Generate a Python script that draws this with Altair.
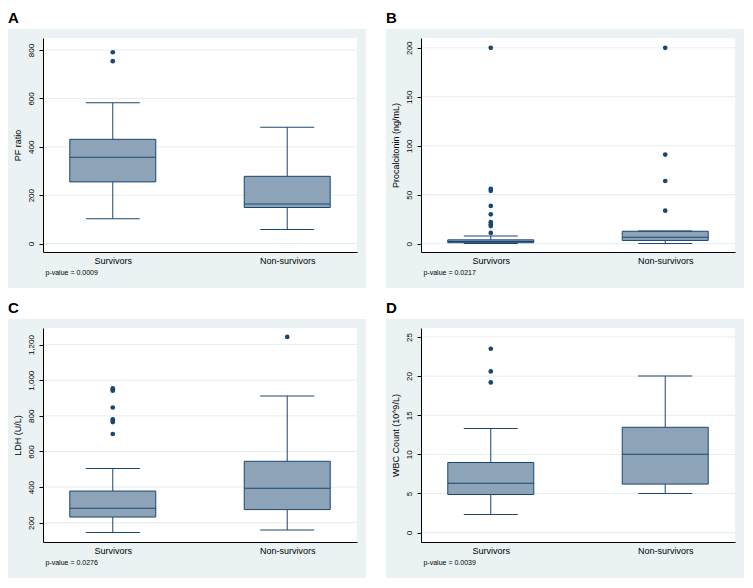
import altair as alt
import pandas as pd

# ---------------- data ----------------
groups = ["Survivors", "Non-survivors"]

# Panel A: PF ratio
A_lower = [103, 58]
A_q1 = [255, 149]
A_median = [357, 163]
A_q3 = [431, 278]
A_upper = [582, 481]
A_out_surv = [791, 754]
A_out_non = []
A_ticks = [0, 200, 400, 600, 800]

# Panel B: Procalcitonin
B_lower = [0.2, 0.1]
B_q1 = [1.0, 3.3]
B_median = [2.2, 6.5]
B_q3 = [3.9, 12.7]
B_upper = [7.8, 13.0]
B_out_surv = [11, 18, 19.5, 22, 30, 38.5, 54, 56, 200]
B_out_non = [33.7, 64, 91, 200]
B_ticks = [0, 50, 100, 150, 200]

# Panel C: LDH
C_lower = [146, 159]
C_q1 = [232, 274]
C_median = [281, 394]
C_q3 = [378, 545]
C_upper = [504, 912]
C_out_surv = [698, 765, 772, 781, 847, 941, 948, 955]
C_out_non = [1243]
C_ticks = [200, 400, 600, 800, 1000, 1200]

# Panel D: WBC count
D_lower = [2.3, 5.0]
D_q1 = [4.87, 6.2]
D_median = [6.3, 10.0]
D_q3 = [8.96, 13.46]
D_upper = [13.3, 20.0]
D_out_surv = [19.2, 20.6, 23.5]
D_out_non = []
D_ticks = [0, 5, 10, 15, 20, 25]

# ---------------- style ----------------
W, H = 314, 214
FONT = "Liberation Sans"
NAVY = "#1a476f"
BOXFILL = "#8da3b7"
BG = "#eaf2f3"
GRID = "#e6eef0"


def panel(letter, ytitle, pval, ticks, domain, fmt,
          lower, q1, med, q3, upper, out_s, out_n):
    stats = pd.DataFrame({"group": groups, "lower": lower, "q1": q1,
                          "median": med, "q3": q3, "upper": upper})
    outs = pd.DataFrame({"group": ["Survivors"] * len(out_s) + ["Non-survivors"] * len(out_n),
                         "value": list(out_s) + list(out_n)})
    grid = pd.DataFrame({"tick": ticks})
    one = pd.DataFrame({"a": [0]})

    xaxis = alt.Axis(title=pval, labelAngle=0, ticks=False, domain=True,
                     domainColor="black", domainWidth=1,
                     labelFontSize=9, labelFont=FONT, labelColor="black", labelPadding=4,
                     titleFont=FONT, titleFontSize=7, titleFontWeight="normal",
                     titleColor="black", titleAnchor="start", titleAlign="left",
                     titlePadding=3, titleX=2, grid=False, zindex=1)
    yaxis = alt.Axis(values=ticks, format=fmt, labelAngle=270, labelFontSize=8,
                     labelFont=FONT, labelColor="black", labelPadding=4,
                     labelOverlap=False, tickSize=4, tickColor="black",
                     domainColor="black", domainWidth=1,
                     titleFont=FONT, titleFontSize=9, titleFontWeight="normal",
                     titleColor="black", titlePadding=5, grid=False, zindex=1)
    yscale = alt.Scale(domain=domain, nice=False, zero=False)
    X = alt.X("group:N", sort=groups, scale=alt.Scale(type="point", padding=0.4),
              axis=xaxis)

    def Y(f):
        return alt.Y(f"{f}:Q", scale=yscale, axis=yaxis, title=ytitle)

    bg = alt.Chart(one).mark_rect(color=BG).encode(
        x=alt.value(-35), x2=alt.value(W + 9), y=alt.value(-9), y2=alt.value(H + 36))
    white = alt.Chart(one).mark_rect(color="white").encode(
        x=alt.value(0), x2=alt.value(W), y=alt.value(0), y2=alt.value(H))
    gridl = alt.Chart(grid).mark_rule(color=GRID, strokeWidth=1).encode(
        y=Y("tick"), x=alt.value(0), x2=alt.value(W))
    whisk = alt.Chart(stats).mark_rule(color=NAVY, strokeWidth=1).encode(
        x=X, y=Y("lower"), y2="upper:Q")
    box = alt.Chart(stats).mark_bar(size=86, fill=BOXFILL, stroke=NAVY,
                                    strokeWidth=1).encode(
        x=X, y=Y("q1"), y2="q3:Q")
    median = alt.Chart(stats).mark_tick(orient="horizontal", size=86, thickness=1,
                                        color=NAVY, opacity=1).encode(x=X, y=Y("median"))
    cap_lo = alt.Chart(stats).mark_tick(orient="horizontal", size=54, thickness=1,
                                        color=NAVY, opacity=1).encode(x=X, y=Y("lower"))
    cap_hi = alt.Chart(stats).mark_tick(orient="horizontal", size=54, thickness=1,
                                        color=NAVY, opacity=1).encode(x=X, y=Y("upper"))
    pts = alt.Chart(outs).mark_circle(size=22, color=NAVY, opacity=1).encode(
        x=X, y=Y("value"))

    return alt.layer(bg, white, gridl, whisk, box, median, cap_lo, cap_hi, pts).properties(
        width=W, height=H,
        title=alt.TitleParams(text=letter, anchor="start", frame="bounds", fontSize=15,
                              fontWeight="bold", font=FONT, color="black", offset=3))


pA = panel("A", "PF ratio", "p-value = 0.0009", A_ticks, [-35, 850], "d",
           A_lower, A_q1, A_median, A_q3, A_upper, A_out_surv, A_out_non)
pB = panel("B", "Procalcitonin (ng/mL)", "p-value = 0.0217", B_ticks, [-8.5, 210], "d",
           B_lower, B_q1, B_median, B_q3, B_upper, B_out_surv, B_out_non)
pC = panel("C", "LDH (U/L)", "p-value = 0.0276", C_ticks, [92, 1293], ",d",
           C_lower, C_q1, C_median, C_q3, C_upper, C_out_surv, C_out_non)
pD = panel("D", "WBC Count (10^9/L)", "p-value = 0.0039", D_ticks, [-1.2, 26.15], "d",
           D_lower, D_q1, D_median, D_q3, D_upper, D_out_surv, D_out_non)

chart = alt.vconcat(
    alt.hconcat(pA, pB, spacing=20),
    alt.hconcat(pC, pD, spacing=20),
    spacing=13,
).properties(padding={"top": 3, "left": 0, "right": 0, "bottom": 0},
             background="white").configure_view(stroke=None)

chart.save("out.html", embed_options={"renderer": "svg", "actions": False})
